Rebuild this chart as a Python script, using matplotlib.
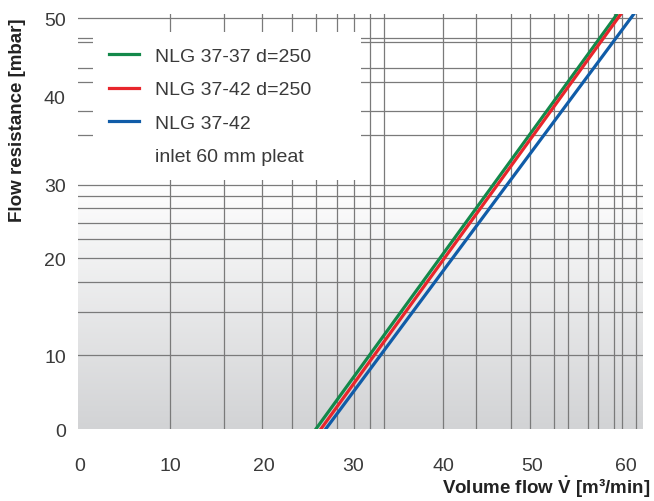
import numpy as np
import matplotlib
matplotlib.use("Agg")
import matplotlib.pyplot as plt
from matplotlib.colors import LinearSegmentedColormap
from matplotlib.lines import Line2D
from matplotlib.ticker import FixedLocator, FixedFormatter, NullLocator

plt.rcParams["font.family"] = ["Liberation Sans", "DejaVu Sans"]
plt.rcParams["mathtext.fontset"] = "custom"
plt.rcParams["mathtext.rm"] = "Liberation Sans:bold"
plt.rcParams["mathtext.bf"] = "Liberation Sans:bold"

# Curves (flow, resistance)
GREEN_FLOW = [5.99, 57.7]
GREEN_RES = [1.0, 49.6]
RED_FLOW = [6.22, 59.6]
RED_RES = [1.0, 50.0]
BLUE_FLOW = [6.45, 65.7]
BLUE_RES = [1.0, 50.0]

SERIES_LABELS = ["NLG 37-37 d=250", "NLG 37-42 d=250", "NLG 37-42"]
NOTE_LABEL = "inlet 60 mm pleat"

X_TICK_LABELS = ["0", "10", "20", "30", "40", "50", "60"]
Y_TICK_LABELS = ["0", "10", "20", "30", "40", "50"]

# grid of the printed chart
X_GRID = [2, 3, 4, 5, 6, 7, 8, 9, 10, 15.6, 20, 26, 30, 36, 40, 46.4, 50, 56.7, 60, 66.7]
Y_GRID = [2, 3, 4, 5, 6, 7, 8, 9, 10, 16.0, 20, 26.4, 30, 38.5, 40, 48.0]

GREEN = "#13894a"
RED = "#e8262c"
BLUE = "#105ca8"
GRID_COLOR = "#7a7a7a"
TEXT_COLOR = "#3a3a3a"

fig = plt.figure(figsize=(6.54, 5.02), dpi=100)
rect = [0.1197, 0.1434, 0.8635, 0.8267]

# background gradient (white on top, grey at the bottom)
bg = fig.add_axes(rect, zorder=0)
bg.axis("off")
grey_to_white = LinearSegmentedColormap.from_list(
    "bg", [(0.0, "#d2d3d5"), (0.6, "#ffffff"), (1.0, "#ffffff")]
)
grad = np.linspace(0, 1, 256).reshape(-1, 1)
bg.imshow(grad, cmap=grey_to_white, aspect="auto", origin="lower", extent=[0, 1, 0, 1])

ax = fig.add_axes(rect, zorder=1)
ax.patch.set_alpha(0)
ax.set_xscale("log")
ax.set_yscale("log")
ax.set_xlim(1, 70.4)
ax.set_ylim(1, 50)

for v in X_GRID:
    ax.axvline(v, color=GRID_COLOR, lw=0.9, zorder=1)
for v in Y_GRID:
    ax.axhline(v, color=GRID_COLOR, lw=0.9, zorder=1)

ax.plot(GREEN_FLOW, GREEN_RES, color=GREEN, lw=2.3, zorder=3)
ax.plot(RED_FLOW, RED_RES, color=RED, lw=2.3, zorder=3)
ax.plot(BLUE_FLOW, BLUE_RES, color=BLUE, lw=2.3, zorder=3)

ax.xaxis.set_major_locator(FixedLocator([1.01, 2.0, 4.05, 7.9, 15.7, 30.5, 62]))
ax.xaxis.set_major_formatter(FixedFormatter(X_TICK_LABELS))
ax.yaxis.set_major_locator(FixedLocator([1, 2, 5, 10, 23, 48]))
ax.yaxis.set_major_formatter(FixedFormatter(Y_TICK_LABELS))
ax.xaxis.set_minor_locator(NullLocator())
ax.yaxis.set_minor_locator(NullLocator())
ax.tick_params(which="both", length=0, labelsize=14, labelcolor=TEXT_COLOR)
ax.tick_params(axis="x", pad=20)
ax.tick_params(axis="y", pad=9)
for spine in ax.spines.values():
    spine.set_visible(False)

handles = [
    Line2D([], [], color=GREEN, lw=2.3),
    Line2D([], [], color=RED, lw=2.3),
    Line2D([], [], color=BLUE, lw=2.3),
    Line2D([], [], color="none"),
]
leg = ax.legend(
    handles, SERIES_LABELS + [NOTE_LABEL],
    loc="upper left", bbox_to_anchor=(0.026, 0.5, 0.4746, 0.4566), mode="expand",
    borderaxespad=0, borderpad=0.8, handlelength=1.55, handletextpad=0.85,
    labelspacing=0.8, fontsize=14, fancybox=False, framealpha=1,
    facecolor="white", edgecolor="none", labelcolor=TEXT_COLOR,
)
leg.set_zorder(5)

fig.text(650 / 654, 0.028, r"Volume flow $\dot{\mathbf{V}}$ [m³/min]", ha="right", va="center",
         fontsize=13.5, fontweight="bold", color="#222222")
fig.text(18 / 654, (502 - 18) / 502, "Flow resistance [mbar]", rotation=90,
         ha="center", va="top", fontsize=13.5, fontweight="bold", color="#222222")

fig.savefig("out.png", dpi=100)
